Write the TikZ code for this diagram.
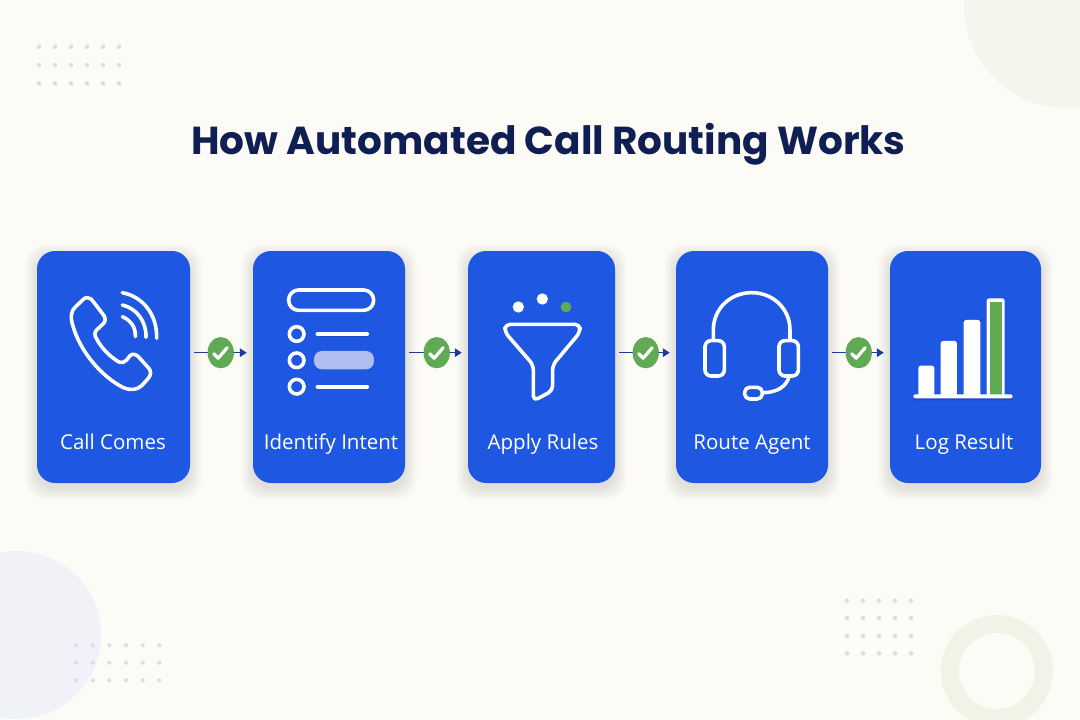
\documentclass[tikz,border=0pt]{standalone}
\usepackage{fontspec}
\setmainfont{Open Sans}
\newfontfamily\titlefont{Poppins}
\usetikzlibrary{shapes.geometric,arrows.meta}
\definecolor{paper}{HTML}{FDFBF6}
\definecolor{cardblue}{HTML}{1E58E2}
\definecolor{navy}{HTML}{0F1F54}
\definecolor{flowblue}{HTML}{1E3A9E}
\definecolor{okgreen}{HTML}{60A955}
\definecolor{dotcol}{HTML}{DCDCEE}
\definecolor{softgreen}{HTML}{F3F6EC}
\definecolor{softring}{HTML}{F0F4E7}
\definecolor{softblue}{HTML}{F1F2F8}
\definecolor{highlight}{HTML}{AFBEEF}
\definecolor{iconshade}{HTML}{1A4BC4}
\tikzset{
  cardbox/.style={fill=cardblue,rounded corners=18pt,inner sep=0pt,minimum height=232pt,draw=none},
  cardlabel/.style={text=white,anchor=base,inner sep=0pt,font=\fontsize{20.5}{24}\selectfont},
  titlelabel/.style={text=navy,anchor=base,inner sep=0pt,font=\titlefont\bfseries\fontsize{39}{46}\selectfont},
  flow/.style={draw=flowblue,line width=1.5pt,-{Triangle[length=7pt,width=8.5pt]},shorten >=6pt,shorten <=4pt},
  badge/.style={ellipse,fill=okgreen,minimum width=26pt,minimum height=31pt,inner sep=0pt},
  tick/.style={draw=white,line width=3.2pt,line cap=round,line join=round},
  iconline/.style={draw=white,line width=3.6pt,line cap=round,line join=round,
    preaction={draw=iconshade,transform canvas={yshift=-2pt}}},
  iconfill/.style={fill=white,preaction={fill=iconshade,transform canvas={yshift=-2pt}}},
  zoomA/.style={shift={(30,245)},x=0.3333pt,y=-0.3333pt},
  zoomB/.style={shift={(250,245)},x=0.3333pt,y=-0.3333pt},
  zoomC/.style={shift={(465,245)},x=0.3333pt,y=-0.3333pt},
  zoomD/.style={shift={(670,245)},x=0.3333pt,y=-0.3333pt},
  zoomE/.style={shift={(830,245)},x=0.3333pt,y=-0.3333pt},
}
\newcommand{\softshadow}[4]{%
  \foreach \s in {1,...,9}{%
    \fill[black,opacity=0.011,rounded corners=20pt]
      (#1-\s*1.3,#3+5-\s*1.3) rectangle (#2+\s*1.3,#4+5+\s*1.3);
  }%
}
\begin{document}
\begin{tikzpicture}[x=1pt,y=-1pt]
\useasboundingbox (0,0) rectangle (1080,720);
\clip (0,0) rectangle (1080,720);
\fill[paper] (0,0) rectangle (1080,720);
% background decoration
\fill[softgreen] (1067,5) circle (103);
\fill[softblue] (17,635) circle (84);
\draw[softring,line width=18pt] (997,671) circle (47);
\foreach \x in {39,55,71,87,103,119}\foreach \y in {46.7,65,83.3}{\fill[dotcol] (\x,\y) circle (2.3);}
\foreach \x in {76,92.7,109.3,126,142.7,159.3}\foreach \y in {645.3,662.7,680.3}{\fill[dotcol] (\x,\y) circle (2.1);}
\foreach \x in {847,863,879,895,911}\foreach \y in {600.7,618,635.7,653.3}{\fill[dotcol] (\x,\y) circle (2.3);}
% title
\node[titlelabel] (title) at (548.5,154) {How Automated Call Routing Works};
% card shadows
\softshadow{37}{190}{251}{483}
\softshadow{253}{405}{251}{483}
\softshadow{468}{615}{251}{483}
\softshadow{676}{828}{251}{483}
\softshadow{890}{1041}{251}{483}
% cards
\node[cardbox,minimum width=153pt] (card1) at (113.5,367) {};
\node[cardbox,minimum width=152pt] (card2) at (329,367) {};
\node[cardbox,minimum width=147pt] (card3) at (541.5,367) {};
\node[cardbox,minimum width=152pt] (card4) at (752,367) {};
\node[cardbox,minimum width=151pt] (card5) at (965.5,367) {};
% labels
\node[cardlabel] (label1) at (113,449) {Call Comes};
\node[cardlabel] (label2) at (331,449) {Identify Intent};
\node[cardlabel] (label3) at (543,449) {Apply Rules};
\node[cardlabel] (label4) at (752,449) {Route Agent};
\node[cardlabel] (label5) at (964,449) {Log Result};
% badges
\node[badge] (badge1) at (220.7,352.7) {};
\node[badge] (badge2) at (436.7,352.7) {};
\node[badge] (badge3) at (645.7,352.7) {};
\node[badge] (badge4) at (858.7,352.7) {};
% connectors
\begin{scope}[on background layer/.style={}]
\draw[flow] (badge1 -| card1.east) -- (badge1 -| card2.west);
\draw[flow] (badge2 -| card2.east) -- (badge2 -| card3.west);
\draw[flow] (badge3 -| card3.east) -- (badge3 -| card4.west);
\draw[flow] (badge4 -| card4.east) -- (badge4 -| card5.west);
\end{scope}
\node[badge] (badgetop1) at (badge1) {};
\node[badge] (badgetop2) at (badge2) {};
\node[badge] (badgetop3) at (badge3) {};
\node[badge] (badgetop4) at (badge4) {};
\foreach \b in {badge1,badge2,badge3,badge4}{
  \draw[tick] ([shift={(-7,1)}]\b.center) -- ([shift={(-2.5,5.5)}]\b.center) -- ([shift={(6.5,-5)}]\b.center);
}
% phone
\begin{scope}[zoomA]
\draw[iconline] (172,158) .. controls (182,158) and (186,165) .. (190,170) -- (222,212) .. controls (228,222) and (226,232) .. (218,238) -- (200,255) .. controls (193,262) and (193,272) .. (200,282) .. controls (215,310) and (240,335) .. (265,350) .. controls (275,355) and (285,352) .. (290,345) -- (300,332) .. controls (308,325) and (318,328) .. (325,335) -- (355,368) .. controls (365,378) and (363,390) .. (355,400) -- (335,422) .. controls (322,435) and (300,437) .. (280,428) .. controls (215,395) and (150,320) .. (128,240) .. controls (120,215) and (125,195) .. (135,187) -- (160,163) .. controls (164,159) and (168,158) .. (172,158) -- cycle;
\draw[iconline] (277,143) .. controls (340,155) and (382,210) .. (380,280);
\draw[iconline] (277,180) .. controls (320,190) and (350,230) .. (348,277);
\draw[iconline] (277,215) .. controls (300,225) and (318,245) .. (316,275);
\end{scope}
% list
\begin{scope}[zoomB]
\draw[iconline,rounded corners=10pt] (116,135) rectangle (371,196);
\draw[iconline] (140,267) circle (22);
\draw[iconline] (140,346) circle (22);
\draw[iconline] (140,425) circle (22);
\draw[iconline,line width=4.3pt] (203,267) -- (351,267);
\fill[highlight,rounded corners=8pt] (192,318) rectangle (372,373);
\draw[iconline,line width=4.3pt] (203,425) -- (351,425);
\end{scope}
% funnel
\begin{scope}[zoomC]
\fill[white] (160,186) circle (17);
\fill[white] (232,162) circle (17);
\fill[okgreen] (303,186) circle (16);
\draw[iconline,rounded corners=5pt] (120,238) -- (345,238) -- (345,262) -- (263,360) -- (263,437) -- (205,468) -- (205,360) -- (120,262) -- cycle;
\end{scope}
% headset
\begin{scope}[zoomD]
\draw[iconline] (130,285) -- (130,255) .. controls (130,191) and (181,143) .. (245,143) .. controls (309,143) and (360,191) .. (360,255) -- (360,285);
\draw[iconline,rounded corners=6pt] (105,287) rectangle (163,393);
\draw[iconline,rounded corners=6pt] (327,287) rectangle (385,393);
\draw[iconline] (358,393) .. controls (350,425) and (320,443) .. (280,443);
\draw[iconline,rounded corners=5pt] (224,427) rectangle (277,462);
\end{scope}
% bars
\begin{scope}[zoomE]
\fill[iconfill,rounded corners=2.5pt] (265,362) rectangle (313,455);
\fill[iconfill,rounded corners=2.5pt] (332,288) rectangle (381,455);
\fill[iconfill,rounded corners=2.5pt] (401,225) rectangle (451,455);
\fill[iconfill,rounded corners=2.5pt] (470,160) rectangle (524,455);
\fill[okgreen] (480,172) rectangle (516,450);
\fill[iconfill,rounded corners=2pt] (250,448) rectangle (548,460);
\end{scope}
\end{tikzpicture}
\end{document}
